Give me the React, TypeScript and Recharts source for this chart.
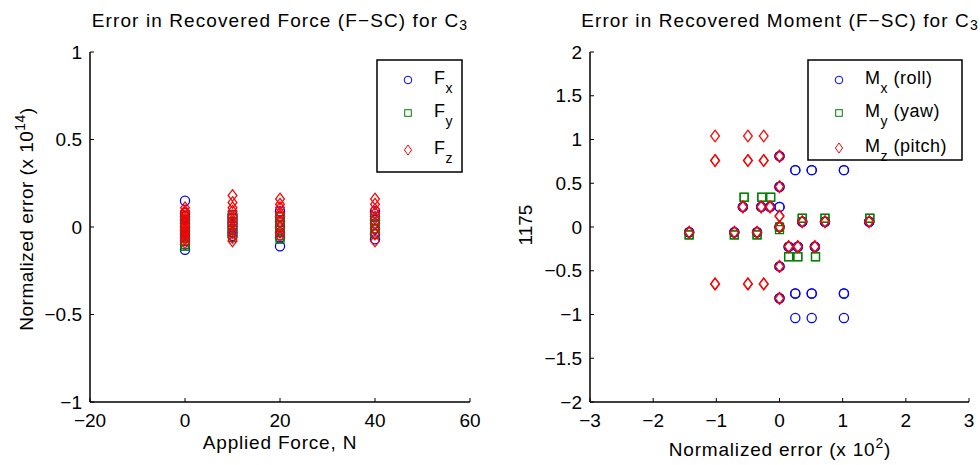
import React from "react"
import { Customized, Scatter, ScatterChart, XAxis, YAxis } from "recharts"

const FONT = "'Liberation Sans', Arial, Helvetica, sans-serif"
const BLUE = "#0000ff"
const GREEN = "#008000"
const RED = "#ff0000"

// left panel: error per applied force level (x 1e14)
const forceLevels = [0, 10, 20, 40]
const fxErr = [
  [0.15, 0.08, 0.06, 0.04, 0.02, 0.0, -0.02, -0.04, -0.06, -0.08, -0.1, -0.13],
  [0.07, 0.05, 0.03, 0.01, -0.01, -0.03, -0.05],
  [0.09, 0.06, 0.03, 0.0, -0.03, -0.06, -0.11],
  [0.09, 0.06, 0.04, 0.02, -0.01, -0.04, -0.07],
]
const fyErr = [
  [0.07, 0.04, 0.01, -0.02, -0.05, -0.08, -0.1, -0.11],
  [0.07, 0.05, 0.03, 0.01, -0.02, -0.04, -0.06],
  [0.06, 0.04, 0.01, -0.02, -0.05, -0.07],
  [0.06, 0.03, 0.01, -0.01, -0.04],
]
const fzErr = [
  [0.11, 0.09, 0.08, 0.06, 0.04, 0.03, 0.01, -0.01, -0.02, -0.04, -0.06, -0.07, -0.09],
  [0.18, 0.14, 0.11, 0.09, 0.06, 0.04, 0.02, 0.0, -0.03, -0.06, -0.08],
  [0.16, 0.13, 0.11, 0.08, 0.06, 0.03, 0.0, -0.03, -0.05],
  [0.16, 0.13, 0.1, 0.08, 0.05, 0.02, -0.01, -0.04, -0.08],
]

// right panel: moment errors (overlapping repeats listed twice)
const mxX = [0, 0, 0.25, 0.25, 0.51, 0.51, 1.02, 1.02, 0, 0, -0.58, -0.58, -0.29, -0.29, -0.15, -0.15, 0, 0, 0, 0, -1.43, -1.43, -0.715, -0.715, -0.356, -0.356, 0.36, 0.36, 0.72, 0.72, 1.42, 1.42, 0.145, 0.145, 0.29, 0.29, 0.56, 0.56, 0, 0, 0.25, 0.25, 0.51, 0.51, 1.02, 1.02, 0, 0, 0.25, 0.51, 1.02]
const mxY = [0.81, 0.81, 0.65, 0.65, 0.65, 0.65, 0.65, 0.65, 0.46, 0.46, 0.23, 0.23, 0.23, 0.23, 0.23, 0.23, 0.23, 0.23, 0.0, 0.0, -0.06, -0.06, -0.06, -0.06, -0.06, -0.06, 0.06, 0.06, 0.06, 0.06, 0.06, 0.06, -0.225, -0.225, -0.225, -0.225, -0.225, -0.225, -0.45, -0.45, -0.76, -0.76, -0.76, -0.76, -0.76, -0.76, -0.815, -0.815, -1.04, -1.04, -1.04]
const myX = [-0.56, -0.56, -0.28, -0.28, -0.14, -0.14, 0, 0, 0.36, 0.36, 0.72, 0.72, 1.43, 1.43, -1.43, -1.43, -0.715, -0.715, -0.355, -0.355, 0.145, 0.145, 0.29, 0.29, 0.57, 0.57]
const myY = [0.34, 0.34, 0.34, 0.34, 0.34, 0.34, 0.0, -0.03, 0.1, 0.1, 0.1, 0.1, 0.1, 0.1, -0.09, -0.09, -0.09, -0.09, -0.09, -0.09, -0.34, -0.34, -0.34, -0.34, -0.34, -0.34]
const mzX = [-1.02, -0.5, -0.25, -1.02, -1.02, -0.5, -0.5, -0.25, -0.25, 0, 0, 0, 0, -0.58, -0.58, -0.29, -0.29, -0.15, -0.15, 0, 0, 0, 0, -1.43, -1.43, -0.715, -0.715, -0.356, -0.356, 0.36, 0.36, 0.72, 0.72, 1.42, 1.42, 0.145, 0.145, 0.29, 0.29, 0.56, 0.56, 0, 0, -1.02, -1.02, -0.5, -0.5, -0.25, -0.25, 0, 0]
const mzY = [1.04, 1.04, 1.04, 0.76, 0.76, 0.76, 0.76, 0.76, 0.76, 0.81, 0.81, 0.46, 0.46, 0.23, 0.23, 0.23, 0.23, 0.23, 0.23, 0.125, 0.125, 0.0, 0.0, -0.06, -0.06, -0.06, -0.06, -0.06, -0.06, 0.06, 0.06, 0.06, 0.06, 0.06, 0.06, -0.225, -0.225, -0.225, -0.225, -0.225, -0.225, -0.45, -0.45, -0.65, -0.65, -0.65, -0.65, -0.65, -0.65, -0.815, -0.815]

const forceTicks = [-20, 0, 20, 40, 60]
const forceErrTicks = [-1, -0.5, 0, 0.5, 1]
const momentXTicks = [-3, -2, -1, 0, 1, 2, 3]
const momentYTicks = [-2, -1.5, -1, -0.5, 0, 0.5, 1, 1.5, 2]

const byLevel = (errs: number[][]) =>
  forceLevels.flatMap((f, i) => errs[i].map((y) => ({ x: f, y })))
const zipXY = (xs: number[], ys: number[]) => xs.map((x, i) => ({ x, y: ys[i] }))

const fmt = (v: number) => (v < 0 ? "\u2212" + Math.abs(v) : String(v))

const circle = (color: string) => (p: any) =>
  <circle cx={p.cx} cy={p.cy} r={4.6} fill="none" stroke={color} strokeWidth={1.25} />
const square = (color: string) => (p: any) =>
  <rect x={p.cx - 4} y={p.cy - 4} width={8} height={8} fill="none" stroke={color} strokeWidth={1.25} />
const diamond = (color: string) => (p: any) =>
  <path d={`M${p.cx},${p.cy - 5.8}L${p.cx + 4.4},${p.cy}L${p.cx},${p.cy + 5.8}L${p.cx - 4.4},${p.cy}Z`} fill="none" stroke={color} strokeWidth={1.25} />

const tickStyle = { fill: "#000", fontSize: 19, fontFamily: FONT }
const axisLine = { stroke: "#000", strokeWidth: 1.5 }

type Item = { sym: string; color: string; main: string; sub: string; rest: string; y: number }

function LegendBox({ x, y, w, h, items }: { x: number; y: number; w: number; h: number; items: Item[] }) {
  return (
    <g transform={`translate(${x},${y})`}>
      <rect x={0} y={0} width={w} height={h} fill="#fff" stroke="#000" strokeWidth={1.5} />
      {items.map((it) => {
        const cx = 31
        const cy = it.y
        let mark
        if (it.sym === "circle") mark = <circle cx={cx} cy={cy} r={3.8} fill="none" stroke={it.color} />
        else if (it.sym === "square") mark = <rect x={cx - 3.3} y={cy - 3.3} width={6.6} height={6.6} fill="none" stroke={it.color} />
        else mark = <path d={`M${cx},${cy - 5}L${cx + 3.6},${cy}L${cx},${cy + 5}L${cx - 3.6},${cy}Z`} fill="none" stroke={it.color} />
        return (
          <g key={it.main + it.sub}>
            {mark}
            <text x={57} y={cy + 4} fontSize={18} fontFamily={FONT} fill="#000" letterSpacing={0.5}>
              {it.main}
              <tspan dy={9} fontSize={14}>{it.sub}</tspan>
              {it.rest ? <tspan dy={-9} fontSize={18}>{it.rest}</tspan> : null}
            </text>
          </g>
        )
      })}
    </g>
  )
}

function ForcePanel() {
  return (
    <ScatterChart width={490} height={465} margin={{ top: 52, right: 20, bottom: 23, left: 30 }}>
      <XAxis type="number" dataKey="x" domain={[-20, 60]} ticks={forceTicks} interval={0} tickFormatter={fmt}
        tick={tickStyle} tickSize={-4} tickMargin={16} tickLine={{ stroke: "#000" }} axisLine={axisLine} height={40} />
      <YAxis type="number" dataKey="y" domain={[-1, 1]} ticks={forceErrTicks} interval={0} tickFormatter={fmt}
        tick={tickStyle} tickSize={-4} tickMargin={12} tickLine={{ stroke: "#000" }} axisLine={axisLine} width={60} />
      <Scatter name="Fx" data={byLevel(fxErr)} shape={circle(BLUE)} isAnimationActive={false} />
      <Scatter name="Fy" data={byLevel(fyErr)} shape={square(GREEN)} isAnimationActive={false} />
      <Scatter name="Fz" data={byLevel(fzErr)} shape={diamond(RED)} isAnimationActive={false} />
      <Customized component={() => (
        <g fontFamily={FONT} fill="#000">
          <LegendBox x={377} y={60} w={85} h={112} items={[
            { sym: "circle", color: BLUE, main: "F", sub: "x", rest: "", y: 20 },
            { sym: "square", color: GREEN, main: "F", sub: "y", rest: "", y: 53 },
            { sym: "diamond", color: RED, main: "F", sub: "z", rest: "", y: 90 },
          ]} />
          <text x={280} y={27} textAnchor="middle" fontSize={19} letterSpacing={1.1}>
            Error in Recovered Force (F{"\u2212"}SC) for C<tspan dy={3} fontSize={14}>3</tspan>
          </text>
          <text x={280} y={449} textAnchor="middle" fontSize={19} letterSpacing={0.8}>Applied Force, N</text>
          <text transform="rotate(-90)" x={-219} y={33} textAnchor="middle" fontSize={19} letterSpacing={0.5}>
            Normalized error (x 10<tspan dy={-8} fontSize={14}>14</tspan><tspan dy={8}>)</tspan>
          </text>
        </g>
      )} />
    </ScatterChart>
  )
}

function MomentPanel() {
  return (
    <ScatterChart width={490} height={465} margin={{ top: 52, right: 11, bottom: 23, left: 40 }}>
      <XAxis type="number" dataKey="x" domain={[-3, 3]} ticks={momentXTicks} interval={0} tickFormatter={fmt}
        tick={tickStyle} tickSize={-4} tickMargin={16} tickLine={{ stroke: "#000" }} axisLine={axisLine} height={40} />
      <YAxis type="number" dataKey="y" domain={[-2, 2]} ticks={momentYTicks} interval={0} tickFormatter={fmt}
        tick={tickStyle} tickSize={-4} tickMargin={12} tickLine={{ stroke: "#000" }} axisLine={axisLine} width={60} />
      <Scatter name="Mx" data={zipXY(mxX, mxY)} shape={circle(BLUE)} isAnimationActive={false} />
      <Scatter name="My" data={zipXY(myX, myY)} shape={square(GREEN)} isAnimationActive={false} />
      <Scatter name="Mz" data={zipXY(mzX, mzY)} shape={diamond(RED)} isAnimationActive={false} />
      <Customized component={() => (
        <g fontFamily={FONT} fill="#000">
          <LegendBox x={318} y={60} w={154} h={100} items={[
            { sym: "circle", color: BLUE, main: "M", sub: "x", rest: " (roll)", y: 20 },
            { sym: "square", color: GREEN, main: "M", sub: "y", rest: " (yaw)", y: 53 },
            { sym: "diamond", color: RED, main: "M", sub: "z", rest: " (pitch)", y: 88 },
          ]} />
          <text x={290} y={27} textAnchor="middle" fontSize={19} letterSpacing={1.1}>
            Error in Recovered Moment (F{"\u2212"}SC) for C<tspan dy={3} fontSize={14}>3</tspan>
          </text>
          <text x={290} y={456} textAnchor="middle" fontSize={19} letterSpacing={0.8}>
            Normalized error (x 10<tspan dy={-8} fontSize={14}>2</tspan><tspan dy={8}>)</tspan>
          </text>
          <text transform="rotate(-90)" x={-225} y={42} textAnchor="middle" fontSize={19}>1175</text>
        </g>
      )} />
    </ScatterChart>
  )
}

export default function App() {
  return (
    <div style={{ position: "absolute", left: 0, top: 0, width: 980, height: 465, background: "#fff", display: "flex" }}>
      <ForcePanel />
      <MomentPanel />
    </div>
  )
}
